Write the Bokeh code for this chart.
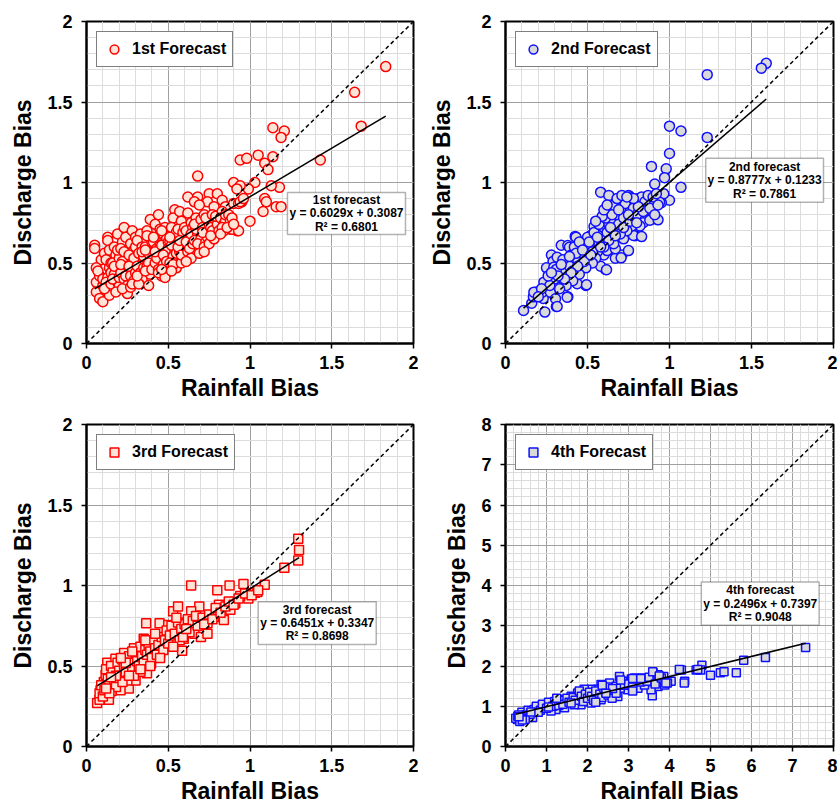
from bokeh.plotting import figure
from bokeh.layouts import column, row
from bokeh.models import Range1d, FixedTicker, Legend, LegendItem, BoxAnnotation, Label
from bokeh.embed import file_html
from bokeh.resources import INLINE

# ---------------- data ----------------
forecast1_points = [
    (1.83,1.72),(1.64,1.56),(1.68,1.35),(1.43,1.14),(1.14,1.34),(1.21,1.32),(1.19,1.28),(1.05,1.17),
    (1.14,1.16),(0.94,1.14),(0.98,1.15),(1.09,1.12),(1.11,1.08),(0.68,1.04),(0.90,1.00),(1.03,1.00),
    (0.99,0.96),(0.94,0.98),(1.18,0.97),(1.13,0.98),(1.09,0.90),(1.10,0.88),(1.08,0.82),(1.16,0.85),
    (1.19,0.85),(1.00,0.76),(0.95,0.88),(0.92,0.70),(0.62,0.91),(0.68,0.91),(0.75,0.93),(0.80,0.93),
    (0.66,0.88),(0.74,0.88),(0.83,0.89),(0.85,0.85),(0.87,0.79),(0.88,0.71),(0.90,0.87),(0.93,0.87),
    (0.84,0.70),(0.89,0.71),(0.93,0.70),
    (0.05,0.61),(0.05,0.59),(0.06,0.38),(0.06,0.32),(0.08,0.28),(0.10,0.26),(0.09,0.52),(0.06,0.47),
    (0.08,0.42),(0.10,0.36),(0.07,0.45),(0.10,0.40),
    (0.13,0.66),(0.13,0.64),(0.11,0.56),(0.12,0.52),(0.14,0.47),(0.13,0.41),(0.14,0.30),(0.12,0.38),
    (0.15,0.44),(0.15,0.50),(0.11,0.34),(0.14,0.58),(0.15,0.37),
    (0.19,0.68),(0.17,0.60),(0.18,0.55),(0.16,0.50),(0.20,0.46),(0.17,0.43),(0.19,0.38),(0.20,0.36),
    (0.18,0.32),(0.20,0.53),(0.19,0.58),(0.16,0.40),(0.20,0.41),(0.17,0.48),
    (0.23,0.72),(0.22,0.63),(0.21,0.59),(0.24,0.55),(0.22,0.51),(0.25,0.48),(0.21,0.44),(0.23,0.40),
    (0.25,0.36),(0.25,0.31),(0.24,0.66),(0.22,0.34),(0.24,0.42),(0.23,0.57),(0.21,0.49),
    (0.28,0.70),(0.27,0.62),(0.29,0.58),(0.26,0.55),(0.30,0.50),(0.28,0.46),(0.27,0.42),(0.29,0.39),
    (0.27,0.35),(0.30,0.60),(0.29,0.53),(0.26,0.48),(0.30,0.44),(0.28,0.37),(0.30,0.66),
    (0.33,0.68),(0.31,0.64),(0.34,0.60),(0.32,0.56),(0.35,0.52),(0.31,0.48),(0.33,0.44),(0.34,0.40),
    (0.32,0.37),(0.35,0.54),(0.35,0.47),(0.31,0.42),(0.34,0.57),
    (0.39,0.77),(0.37,0.70),(0.40,0.66),(0.36,0.60),(0.38,0.56),(0.40,0.52),(0.37,0.48),(0.39,0.43),
    (0.38,0.36),(0.36,0.58),(0.40,0.63),(0.38,0.50),(0.36,0.45),(0.40,0.46),(0.37,0.67),
    (0.44,0.80),(0.42,0.74),(0.45,0.68),(0.41,0.63),(0.43,0.59),(0.45,0.55),(0.42,0.50),(0.44,0.46),
    (0.46,0.42),(0.41,0.66),(0.43,0.53),(0.45,0.61),(0.42,0.57),(0.44,0.44),(0.45,0.71),
    (0.48,0.72),(0.47,0.68),(0.49,0.65),(0.46,0.61),(0.50,0.57),(0.48,0.53),(0.47,0.49),(0.49,0.44),
    (0.48,0.41),(0.50,0.59),(0.46,0.70),(0.50,0.63),(0.47,0.55),(0.49,0.51),(0.46,0.46),
    (0.54,0.83),(0.53,0.78),(0.52,0.72),(0.55,0.67),(0.51,0.63),(0.54,0.58),(0.53,0.54),(0.51,0.50),
    (0.55,0.47),(0.52,0.61),(0.55,0.69),(0.53,0.49),(0.51,0.66),(0.55,0.56),(0.52,0.45),
    (0.57,0.82),(0.58,0.76),(0.56,0.71),(0.60,0.66),(0.59,0.62),(0.57,0.57),(0.60,0.53),(0.58,0.50),
    (0.56,0.60),(0.59,0.69),(0.58,0.55),(0.60,0.72),(0.57,0.64),
    (0.62,0.81),(0.64,0.75),(0.61,0.70),(0.65,0.66),(0.63,0.61),(0.62,0.57),(0.64,0.53),(0.61,0.63),
    (0.65,0.72),(0.63,0.59),(0.61,0.51),(0.65,0.62),(0.64,0.68),
    (0.69,0.86),(0.67,0.78),(0.70,0.73),(0.68,0.68),(0.66,0.64),(0.70,0.60),(0.69,0.56),(0.67,0.71),
    (0.66,0.74),(0.70,0.65),(0.68,0.62),(0.70,0.77),
    (0.72,0.80),(0.74,0.76),(0.71,0.72),(0.75,0.68),(0.73,0.63),(0.72,0.60),(0.75,0.74),(0.73,0.78),
    (0.74,0.66),(0.71,0.69),(0.75,0.62),(0.72,0.57),
    (0.78,0.85),(0.77,0.80),(0.79,0.76),(0.76,0.72),(0.80,0.68),(0.78,0.65),(0.77,0.70),(0.80,0.74),
    (0.79,0.79),(0.76,0.67),
    (0.83,0.82),(0.82,0.78),(0.84,0.74),(0.81,0.70),(0.85,0.76),(0.83,0.72),(0.85,0.80),(0.82,0.68),
    (0.87,0.80),(0.88,0.76),(0.86,0.72),(0.89,0.78),(0.90,0.74),
    (0.92,0.96),(0.94,0.88),(0.96,0.90),
]

forecast2_points = [
    (1.59,1.74),(1.56,1.71),(1.23,1.67),(1.00,1.35),(1.07,1.32),(1.23,1.28),(1.00,1.18),(0.89,1.10),
    (0.98,1.085),(0.97,1.03),(0.91,0.99),(1.07,0.97),(1.00,0.89),(0.95,0.875),(0.58,0.94),(0.63,0.92),
    (0.425,0.665),(0.11,0.205),(0.24,0.195),(0.31,0.23),(0.16,0.25),(0.17,0.29),(0.19,0.32),(0.23,0.28),
    (0.24,0.38),(0.29,0.31),(0.38,0.29),(0.49,0.36),(0.61,0.46),(0.58,0.48),(0.71,0.55),(0.67,0.53),
    (0.79,0.67),(0.89,0.77),(0.84,0.77),(0.83,0.86),(0.89,0.89),(0.60,0.55),(0.28,0.55),(0.29,0.51),
    (0.25,0.47),(0.34,0.61),
    (0.73,0.91),(0.75,0.92),(0.76,0.91),(0.86,0.905),(0.965,0.93),(0.94,0.878),(0.90,0.857),(0.62,0.816),
    (0.67,0.826),(0.70,0.857),(0.80,0.857),(0.82,0.836),(0.58,0.768),(0.54,0.727),(0.67,0.762),(0.75,0.766),
    (0.84,0.75),(0.88,0.766),(0.93,0.768),(0.43,0.66),(0.38,0.608),(0.39,0.598),(0.52,0.671),(0.59,0.65),
    (0.64,0.681),(0.72,0.65),(0.78,0.671),(0.83,0.664),(0.46,0.577),(0.51,0.536),(0.57,0.588),(0.62,0.577),
    (0.67,0.588),(0.705,0.532),(0.75,0.577),(0.315,0.536),(0.295,0.474),(0.356,0.495),(0.427,0.505),
    (0.478,0.484),(0.529,0.526),(0.616,0.458),(0.234,0.381),(0.285,0.412),(0.356,0.391),(0.407,0.412),
    (0.437,0.371),(0.494,0.365),(0.173,0.319),(0.224,0.319),(0.274,0.319),(0.305,0.278),(0.376,0.288),
    (0.315,0.23),
    (0.30,0.40),(0.33,0.45),(0.36,0.44),(0.39,0.48),(0.41,0.45),(0.44,0.52),(0.46,0.49),(0.48,0.55),
    (0.50,0.58),(0.52,0.61),(0.55,0.63),(0.56,0.57),(0.58,0.70),(0.60,0.72),(0.62,0.69),(0.63,0.74),
    (0.65,0.77),(0.66,0.71),(0.68,0.80),(0.69,0.74),(0.71,0.83),(0.72,0.78),(0.74,0.84),(0.76,0.82),
    (0.77,0.87),(0.79,0.88),(0.81,0.90),(0.83,0.91),(0.85,0.88),(0.87,0.92),(0.90,0.91),(0.92,0.93),
    (0.55,0.53),(0.53,0.50),(0.49,0.47),(0.45,0.43),(0.41,0.39),(0.37,0.36),(0.33,0.34),(0.27,0.36),
    (0.26,0.42),(0.31,0.46),(0.35,0.52),(0.40,0.55),(0.42,0.60),(0.47,0.62),(0.50,0.66),(0.54,0.69),
    (0.57,0.74),(0.61,0.78),(0.64,0.84),(0.66,0.86),(0.70,0.89),(0.73,0.87),(0.78,0.84),(0.80,0.80),
    (0.82,0.73),(0.86,0.83),(0.77,0.73),(0.74,0.70),(0.70,0.68),(0.66,0.62),(0.63,0.64),(0.60,0.60),
    (0.57,0.62),(0.53,0.57),(0.48,0.51),(0.44,0.48),(0.40,0.44),(0.36,0.40),(0.32,0.42),(0.28,0.44),
    (0.22,0.34),(0.20,0.29),(0.43,0.56),(0.51,0.63),(0.56,0.66),(0.59,0.79),(0.65,0.80),(0.69,0.83),
    (0.72,0.72),(0.76,0.76),(0.80,0.75),(0.84,0.82),(0.88,0.84),(0.91,0.80),(0.93,0.86),(0.60,0.83),
    (0.55,0.76),(0.62,0.86),(0.68,0.90),(0.71,0.92),(0.45,0.63),(0.39,0.54),(0.34,0.49),(0.47,0.58),
    (0.52,0.55),(0.58,0.60),(0.64,0.72),(0.67,0.67),(0.75,0.80),(0.81,0.85),(0.78,0.90),(0.74,0.91),
]

forecast3_points = [
    (1.295,1.29),(1.30,1.22),(1.295,1.155),(1.21,1.11),(1.09,1.005),(1.03,0.955),(1.045,0.96),(0.99,0.92),
    (0.96,1.01),(0.875,1.00),(0.80,0.97),(0.64,1.00),(0.94,0.935),(0.91,0.89),(0.88,0.85),(0.84,0.785),
    (0.81,0.88),(0.78,0.805),(0.74,0.765),(0.69,0.87),(0.64,0.84),(0.585,0.595),(0.595,0.67),(0.53,0.84),
    (0.56,0.87),(0.365,0.765),(0.447,0.765),(0.50,0.755),(0.555,0.72),(0.66,0.70),(0.70,0.68),(0.74,0.70),
    (0.37,0.455),(0.395,0.515),(0.065,0.27),(0.08,0.29),(0.086,0.35),(0.137,0.29),(0.127,0.52),(0.177,0.545),
    (0.208,0.49),(0.259,0.36),(0.208,0.35),(0.153,0.345),(0.106,0.40),(0.117,0.445),(0.30,0.41),(0.33,0.465),
    (0.27,0.545),(0.31,0.575),(0.25,0.505),(0.19,0.42),(0.45,0.58),(0.48,0.62),(0.43,0.65),(0.35,0.67),
    (0.29,0.61),(0.23,0.58),
    (0.08,0.33),(0.09,0.38),(0.10,0.31),(0.11,0.35),(0.12,0.48),(0.13,0.42),(0.14,0.38),(0.15,0.50),
    (0.16,0.46),(0.17,0.40),(0.18,0.37),(0.19,0.52),(0.20,0.47),(0.21,0.44),(0.22,0.54),(0.23,0.49),
    (0.24,0.46),(0.25,0.41),(0.26,0.56),(0.27,0.52),(0.28,0.48),(0.29,0.44),(0.30,0.58),(0.31,0.53),
    (0.32,0.50),(0.33,0.62),(0.34,0.56),(0.35,0.52),(0.36,0.60),(0.37,0.57),(0.38,0.63),(0.39,0.59),
    (0.40,0.55),(0.41,0.66),(0.42,0.61),(0.43,0.57),(0.44,0.63),(0.46,0.68),(0.47,0.60),(0.48,0.66),
    (0.49,0.72),(0.50,0.64),(0.51,0.69),(0.52,0.75),(0.54,0.70),(0.56,0.77),(0.57,0.66),(0.58,0.73),
    (0.60,0.76),(0.62,0.79),(0.63,0.71),(0.65,0.78),(0.67,0.81),(0.68,0.75),(0.71,0.80),(0.72,0.76),
    (0.75,0.82),(0.77,0.79),(0.79,0.86),(0.82,0.83),(0.85,0.87),(0.87,0.90),(0.90,0.88),(0.93,0.92),
    (0.97,0.95),(1.01,0.94),(1.05,0.97),(0.22,0.40),(0.18,0.44),(0.14,0.33),(0.26,0.44),(0.33,0.48),
    (0.24,0.52),(0.39,0.50),(0.45,0.55),(0.53,0.62),(0.59,0.68),(0.36,0.66),(0.28,0.59),(0.21,0.55),
    (0.12,0.36),(0.15,0.43),(0.42,0.70),(0.55,0.80),(0.61,0.73),
]

forecast4_points = [
    (7.32,2.46),(6.34,2.21),(5.81,2.14),(5.63,1.83),(5.24,1.83),(5.33,1.86),(5.00,1.77),(4.79,2.02),
    (4.65,1.90),(4.76,1.90),(4.29,1.90),(4.37,1.62),(4.04,1.62),(3.86,1.74),(3.60,1.83),(3.72,1.78),
    (3.58,1.26),(3.72,1.49),(3.55,1.41),(3.23,1.67),(3.07,1.68),(2.86,1.62),(2.78,1.74),(2.54,1.58),
    (2.33,1.54),(2.25,1.42),(2.09,1.42),(1.92,1.42),(1.76,1.33),(1.60,1.25),(1.44,1.17),(1.27,1.08),
    (1.11,1.04),(0.94,1.00),(0.78,0.96),(0.66,0.88),(0.54,0.84),(0.42,0.80),(0.29,0.67),(0.45,0.72),
    (0.66,0.72),(2.98,1.41),(3.23,1.45),(3.39,1.53),(3.88,1.53),(2.74,1.24),(2.58,1.28),(2.33,1.16),
    (2.09,1.08),(1.84,1.04),(1.68,1.04),(1.44,0.96),(1.23,0.92),(1.11,0.88),
    (0.25,0.70),(0.30,0.75),(0.35,0.62),(0.40,0.85),(0.50,0.78),(0.55,0.90),(0.60,0.80),(0.70,0.92),
    (0.75,1.00),(0.85,0.90),(0.90,1.05),(1.00,0.95),(1.05,1.10),(1.15,1.00),(1.20,1.12),(1.30,1.02),
    (1.35,1.15),(1.40,1.05),(1.50,1.20),(1.55,1.10),(1.65,1.22),(1.70,1.15),(1.80,1.38),(1.85,1.25),
    (1.90,1.12),(1.95,1.30),(2.00,1.20),(2.05,1.35),(2.10,1.25),(2.15,1.15),(2.20,1.38),(2.30,1.30),
    (2.35,1.22),(2.40,1.45),(2.45,1.35),(2.50,1.28),(2.55,1.48),(2.60,1.20),(2.65,1.40),(2.70,1.50),
    (2.80,1.45),(2.90,1.52),(3.00,1.55),(3.10,1.48),(3.15,1.70),(3.30,1.60),(3.35,1.70),(3.45,1.62),
    (3.50,1.72),(3.65,1.55),(3.80,1.70),(3.95,1.58),(1.25,1.20),(1.05,0.98),(0.80,0.85),(1.60,1.08),
    (2.20,1.10),(2.70,1.32),(3.10,1.38),(0.32,0.78),(0.48,0.68),(0.62,0.86),
    (4.69,1.91),(4.24,1.91),(4.36,1.58),(3.59,1.86),(3.75,1.75),(3.91,1.58),(3.10,1.69),(3.30,1.69),
    (2.81,1.65),(2.36,1.52),(2.61,1.44),(2.45,1.32),(0.41,0.66),(0.33,0.74),
]

legend_labels = ["1st Forecast", "2nd Forecast", "3rd Forecast", "4th Forecast"]
fit_names = ["1st forecast", "2nd forecast", "3rd forecast", "4th forecast"]
fit_slope = [0.6029, 0.8777, 0.6451, 0.2496]
fit_intercept = [0.3087, 0.1233, 0.3347, 0.7397]
fit_r2 = ["0.6801", "0.7861", "0.8698", "0.9048"]

ticks_small = [0, 0.5, 1, 1.5, 2]
tick_labels_small = ["0", "0.5", "1", "1.5", "2"]
ticks_large = [0, 1, 2, 3, 4, 5, 6, 7, 8]
tick_labels_large = ["0", "1", "2", "3", "4", "5", "6", "7", "8"]

# ---------------- style ----------------
FONT = "Liberation Sans"
RED = "#ff0000"
BLUE = "#1010ff"
PEACH = "#fde4d6"
GRAY = "#d9d9d9"


def make_panel(points, marker, line_color, fill_color, size, idx, axmax, ticks, labels,
               minor_step, box, left_b, frame_w, right_b, bottom_b):
    xs = [pt[0] for pt in points]
    ys = [pt[1] for pt in points]
    p = figure(frame_width=frame_w, frame_height=322,
               x_range=Range1d(0, axmax), y_range=Range1d(0, axmax),
               output_backend="svg", toolbar_location=None,
               min_border_left=left_b, min_border_right=right_b,
               min_border_top=21, min_border_bottom=bottom_b)
    p.background_fill_color = "white"
    p.border_fill_color = "white"
    p.outline_line_color = "black"
    p.outline_line_width = 2

    n_minor = int(round(axmax / minor_step))
    minor = [round(i * minor_step, 4) for i in range(n_minor + 1)]
    for ax, grid in ((p.xaxis[0], p.xgrid[0]), (p.yaxis[0], p.ygrid[0])):
        t = FixedTicker(ticks=ticks, minor_ticks=minor)
        ax.ticker = t
        grid.ticker = t
        ax.major_label_overrides = {tv: lab for tv, lab in zip(ticks, labels)}
        ax.axis_line_color = "black"
        ax.axis_line_width = 2
        ax.major_tick_line_color = "black"
        ax.major_tick_line_width = 1.5
        ax.major_tick_out = 5
        ax.major_tick_in = 0
        ax.minor_tick_line_color = None
        ax.major_label_text_font = FONT
        ax.major_label_text_font_style = "bold"
        ax.major_label_text_font_size = "18px"
        ax.major_label_text_color = "black"
        ax.axis_label_text_font = FONT
        ax.axis_label_text_font_style = "bold"
        ax.axis_label_text_font_size = "23px"
        ax.axis_label_text_color = "black"
        grid.grid_line_color = "#a0a0a0"
        grid.grid_line_width = 1
        grid.minor_grid_line_color = "#dcdcdc"
        grid.minor_grid_line_width = 1
    p.xaxis.axis_label = "Rainfall Bias"
    p.yaxis.axis_label = "Discharge Bias"
    p.xaxis.major_label_standoff = 7
    p.yaxis.major_label_standoff = 9
    p.xaxis.axis_label_standoff = 3
    p.yaxis.axis_label_standoff = 8

    r = p.scatter(xs, ys, marker=marker, size=size, line_color=line_color,
                  fill_color=fill_color, line_width=1.5)

    # regression line over the data range
    x0, x1 = min(xs), max(xs)
    a, b = fit_slope[idx], fit_intercept[idx]
    p.line([x0, x1], [a * x0 + b, a * x1 + b], line_color="black", line_width=1.5)
    # 1:1 line
    p.line([0, axmax], [0, axmax], line_color="black", line_width=1.5, line_dash="4 3")

    legend = Legend(items=[LegendItem(label=legend_labels[idx], renderers=[r])],
                    location="top_left", margin=10, padding=6,
                    glyph_width=22, glyph_height=22, label_height=20, label_standoff=7,
                    label_text_font=FONT, label_text_font_style="bold",
                    label_text_font_size="16px", label_text_color="black",
                    border_line_color="black", border_line_width=1.5,
                    background_fill_color="white", background_fill_alpha=1)
    p.add_layout(legend)

    left, right, bottom, top = box
    p.add_layout(BoxAnnotation(left=left, right=right, bottom=bottom, top=top,
                               fill_color="white", fill_alpha=1,
                               line_color="black", line_width=1.5, level="annotation"))
    texts = [fit_names[idx],
             "y = %.4fx + %.4f" % (a, b),
             "R² = " + fit_r2[idx]]
    cx = (left + right) / 2
    for f, t in zip([0.19, 0.5, 0.81], texts):
        p.add_layout(Label(x=cx, y=top - (top - bottom) * f, text=t,
                           text_align="center", text_baseline="middle",
                           text_font=FONT, text_font_style="bold",
                           text_font_size="12px", text_color="black"))
    return p


p1 = make_panel(forecast1_points, "circle", RED, PEACH, 10, 0, 2, ticks_small, tick_labels_small,
                0.1, (1.229, 1.951, 0.677, 0.938), 86, 327, 5, 57)
p2 = make_panel(forecast2_points, "circle", BLUE, GRAY, 10, 1, 2, ticks_small, tick_labels_small,
                0.1, (1.221, 1.939, 0.878, 1.151), 87, 328, 4, 57)
p3 = make_panel(forecast3_points, "square", RED, PEACH, 9, 2, 2, ticks_small, tick_labels_small,
                0.1, (1.05, 1.772, 0.634, 0.899), 86, 327, 5, 61)
p4 = make_panel(forecast4_points, "square", BLUE, GRAY, 8, 3, 8, ticks_large, tick_labels_large,
                0.2, (4.776, 7.65, 3.01, 4.09), 87, 328, 4, 61)

layout = column(row(p1, p2), row(p3, p4))
open("out.html", "w").write(file_html(layout, INLINE))
